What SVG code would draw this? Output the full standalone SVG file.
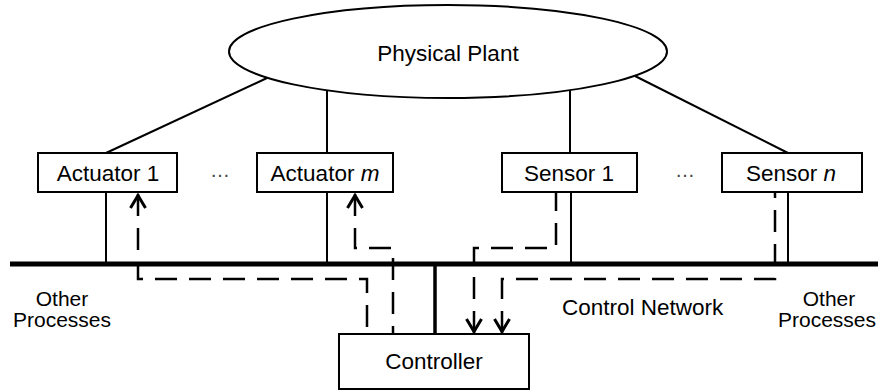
<svg xmlns="http://www.w3.org/2000/svg" width="878" height="391" viewBox="0 0 878 391">
<style>
  text { font-family: "Liberation Sans", Arial, sans-serif; font-size: 22.5px; fill: #000; }
  .box { fill: #fff; stroke: #000; stroke-width: 2; }
  .link { stroke: #000; stroke-width: 2; fill: none; }
  .bus { stroke: #000; stroke-width: 5; fill: none; }
  .ctl { stroke: #000; stroke-width: 3.5; fill: none; }
  .dash { stroke: #000; stroke-width: 2.5; fill: none; stroke-dasharray: 22 12; marker-start: url(#chev); }
  .dots { font-size: 20px; fill: #444; }
  .side { font-size: 21px; }
</style>
<defs>
  <marker id="chev" markerUnits="userSpaceOnUse" markerWidth="30" markerHeight="30" viewBox="-20 -15 30 30" refX="0" refY="0" orient="auto-start-reverse" overflow="visible">
    <path d="M-14,-7.5 L-1.5,0 L-14,7.5" fill="none" stroke="#000" stroke-width="3" stroke-dasharray="none"/>
  </marker>
</defs>

<g id="connectors">
  <line class="link" x1="267" y1="78" x2="106" y2="153"/>
  <line class="link" x1="327" y1="90" x2="327" y2="153"/>
  <line class="link" x1="570" y1="90" x2="570" y2="153"/>
  <line class="link" x1="635" y1="76" x2="788" y2="153"/>
  <line class="bus" x1="10" y1="264" x2="878" y2="264"/>
  <line class="link" x1="106" y1="192" x2="106" y2="264"/>
  <line class="link" x1="327" y1="192" x2="327" y2="264"/>
  <line class="link" x1="571" y1="192" x2="571" y2="264"/>
  <line class="link" x1="788" y1="192" x2="788" y2="264"/>
  <line class="ctl" x1="435" y1="264" x2="435" y2="334"/>
  <path class="dash" d="M138,194 V279 H367 V334"/>
  <path class="dash" d="M355,194 V248 H393 V334"/>
  <path class="dash" d="M474,333 V248 H556 V192"/>
  <path class="dash" d="M502,333 V279 H775 V192"/>
</g>

<g id="plant">
  <ellipse cx="448" cy="51.5" rx="219" ry="46.5" fill="#fff" stroke="#000" stroke-width="2"/>
  <text x="448" y="61" text-anchor="middle">Physical Plant</text>
</g>

<g id="actuator1">
  <rect class="box" x="38" y="153" width="139" height="39"/>
  <text x="108" y="181" text-anchor="middle">Actuator 1</text>
</g>
<g id="actuatorm">
  <rect class="box" x="257" y="153" width="136" height="39"/>
  <text x="325" y="181" text-anchor="middle">Actuator <tspan font-style="italic">m</tspan></text>
</g>
<g id="sensor1">
  <rect class="box" x="502" y="153" width="135" height="39"/>
  <text x="569" y="181" text-anchor="middle">Sensor 1</text>
</g>
<g id="sensorn">
  <rect class="box" x="722" y="153" width="140" height="39"/>
  <text x="791" y="181" text-anchor="middle">Sensor <tspan font-style="italic">n</tspan></text>
</g>
<g id="controller">
  <rect class="box" x="339" y="334" width="190" height="55"/>
  <text x="434" y="369" text-anchor="middle">Controller</text>
</g>

<g id="labels">
  <text class="dots" x="220" y="177" text-anchor="middle">…</text>
  <text class="dots" x="685" y="177" text-anchor="middle">…</text>
  <text class="side" x="62" y="306" text-anchor="middle">Other</text>
  <text class="side" x="62" y="327" text-anchor="middle">Processes</text>
  <text class="side" x="829" y="306" text-anchor="middle">Other</text>
  <text class="side" x="827" y="327" text-anchor="middle">Processes</text>
  <text x="562" y="315">Control Network</text>
</g>
</svg>
